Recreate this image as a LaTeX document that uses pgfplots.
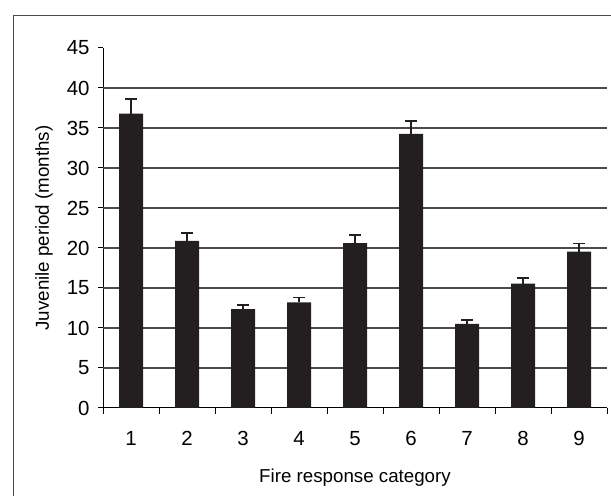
\documentclass[border=0pt]{standalone}
\usepackage{pgfplots}
\pgfplotsset{compat=1.18}
\usepackage{fontspec}
\setmainfont{Liberation Sans}
\definecolor{barc}{HTML}{231F20}
\definecolor{gridc}{HTML}{4A4A4A}
\begin{document}
\begin{tikzpicture}[x=1bp,y=1bp]
\path[use as bounding box] (0,0) rectangle (611,496);
\draw[line width=1bp, color=gridc] (13,-10) -- (13,480) -- (620,480);
\begin{axis}[
  at={(103bp,88bp)}, anchor=south west,
  scale only axis, width=504bp, height=360bp,
  xmin=0.5, xmax=9.5, ymin=0, ymax=45,
  axis x line*=bottom, axis y line*=left,
  axis line style={line width=1bp, black},
  ytick={0,5,...,45},
  extra y ticks={5,10,...,40}, extra y tick labels={},
  extra y tick style={grid=major},
  major grid style={line width=1.1bp, gridc},
  xtick={1,...,9},
  major x tick style={draw=none},
  minor xtick={0.5,1.5,...,9.5},
  minor tick length=6bp, major tick length=5bp,
  tick align=outside,
  tick style={line width=1bp, black},
  /pgf/number format/assume math mode=true,
  tick label style={font=\fontsize{20.5}{23}\selectfont},
  xticklabel style={yshift=-15bp},
  yticklabel style={xshift=-5bp},
  label style={font=\fontsize{18.8}{21}\selectfont},
  xlabel={Fire response category},
  ylabel={Juvenile period (months)},
  xlabel style={at={(axis description cs:0.5,0)}, anchor=center, yshift=-70bp},
  ylabel style={at={(axis description cs:0,0.5)}, anchor=center, yshift=59bp},
  clip=false,
]
\addplot+[ybar, bar width=24bp, fill=barc, draw=none, mark=none,
  error bars/.cd, y dir=plus, y explicit,
  error bar style={line width=1.6bp, barc},
  error mark options={rotate=90, line width=1.6bp, barc, mark size=6bp}]
  coordinates {
  (1,36.8) +- (0,1.8)
  (2,20.9) +- (0,1.0)
  (3,12.35) +- (0,0.55)
  (4,13.2) +- (0,0.6)
  (5,20.6) +- (0,1.0)
  (6,34.25) +- (0,1.65)
  (7,10.5) +- (0,0.5)
  (8,15.55) +- (0,0.7)
  (9,19.55) +- (0,1.0)
  };
\end{axis}
\end{tikzpicture}
\end{document}
